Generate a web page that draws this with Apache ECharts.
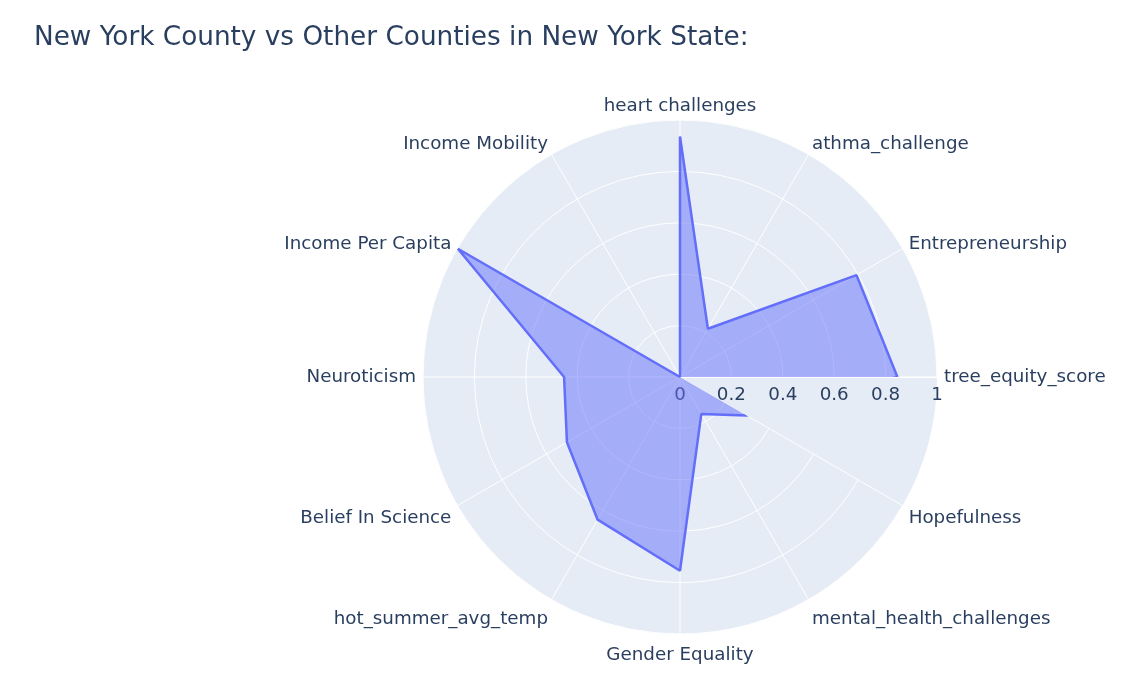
<!DOCTYPE html>
<html>
<head>
<meta charset="utf-8">
<script src="https://cdn.jsdelivr.net/npm/echarts@6/dist/echarts.min.js"></script>
<style>
html,body{margin:0;padding:0;background:#fff;}
#chart{width:1134px;height:698px;}
</style>
</head>
<body>
<div id="chart"></div>
<script>
const categories = ["tree_equity_score","Entrepreneurship","athma_challenge","heart challenges","Income Mobility","Income Per Capita","Neuroticism","Belief In Science","hot_summer_avg_temp","Gender Equality","mental_health_challenges","Hopefulness"];
const values = [0.846, 0.793, 0.217, 0.936, 0.0, 0.998, 0.451, 0.508, 0.641, 0.754, 0.166, 0.299];
const radialTicks = [0, 0.2, 0.4, 0.6, 0.8, 1];

const seriesData = values.map((v, i) => [v, i]);
seriesData.push([values[0], 0]);

const fontFam = '"DejaVu Sans", Verdana, sans-serif';
const labelSize = 18.3;
// label placement tweaks per angular position (degrees -> padding)
function labelPadFor(i) {
  const deg = i * 30;
  if (deg === 30 || deg === 150) return [0, 0, -8, 0];
  if (deg === 60 || deg === 120) return [0, 0, -5, 0];
  if (deg === 90) return [0, 0, -2, 0];
  if (deg === 240 || deg === 270 || deg === 300) return [5, 0, 0, 0];
  if (deg === 0 || deg === 180) return [3, 0, 0, 0];
  return null;
}
const angleData = categories.map((c, i) => {
  const p = labelPadFor(i);
  return p ? {value: c, textStyle: {color: '#2a3f5f', fontFamily: fontFam, fontSize: labelSize, padding: p}} : c;
});

const chart = echarts.init(document.getElementById('chart'), null, {renderer: 'canvas'});
const pc = [680, 377], pr = 257;
chart.setOption({
  animation: false,
  backgroundColor: '#ffffff',
  title: {
    text: 'New York County vs Other Counties in New York State:',
    left: 29, top: 20,
    textStyle: {fontFamily: fontFam, fontSize: 26.3, fontWeight: 'normal', color: '#2a3f5f'}
  },
  polar: [
    {center: pc, radius: pr, z: 0},
    {center: pc, radius: pr, z: 2}
  ],
  angleAxis: [
    {
      polarIndex: 0, z: 0,
      type: 'category', data: categories,
      startAngle: 0, clockwise: false, boundaryGap: false,
      axisLine: {show: false}, axisTick: {show: false}, axisLabel: {show: false},
      splitLine: {show: false},
      splitArea: {show: true, areaStyle: {color: ['#E5ECF6']}}
    },
    {
      polarIndex: 1, z: 2,
      type: 'category', data: angleData,
      startAngle: 0, clockwise: false, boundaryGap: false,
      axisLine: {show: false},
      axisTick: {show: false},
      axisLabel: {color: '#2a3f5f', fontFamily: fontFam, fontSize: labelSize, margin: 7},
      splitLine: {show: true, lineStyle: {color: '#ffffff', width: 1}},
      splitArea: {show: false}
    }
  ],
  radiusAxis: [
    {
      polarIndex: 0, type: 'value', min: 0, max: 1, interval: 0.2,
      axisLine: {show: false}, axisTick: {show: false}, axisLabel: {show: false}, splitLine: {show: false}
    },
    {
      polarIndex: 1, z: 2,
      type: 'value', min: 0, max: 1, interval: 0.2,
      axisLine: {show: true, lineStyle: {color: '#ffffff', width: 1}},
      axisTick: {show: false},
      axisLabel: {
        color: '#2a3f5f', fontFamily: fontFam, fontSize: labelSize, margin: -9, verticalAlign: 'top',
        formatter: v => radialTicks.includes(Math.round(v*10)/10) ? String(Math.round(v*10)/10) : ''
      },
      splitLine: {show: true, lineStyle: {color: '#ffffff', width: 1}}
    }
  ],
  series: [{
    type: 'line',
    coordinateSystem: 'polar',
    polarIndex: 1,
    z: 3,
    data: seriesData,
    symbol: 'none',
    lineStyle: {color: '#636efa', width: 2.5},
    areaStyle: {color: 'rgba(99,110,250,0.5)', opacity: 1}
  }]
});
</script>
</body>
</html>
